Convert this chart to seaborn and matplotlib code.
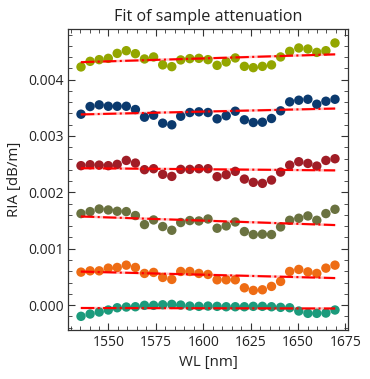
import numpy as np
import pandas as pd
import matplotlib
matplotlib.use("Agg")
import matplotlib.pyplot as plt
from matplotlib.ticker import MultipleLocator
import seaborn as sns

# wavelength grid [nm]
wl = [1535.5, 1540.3, 1545.1, 1549.9, 1554.6, 1559.4, 1564.2, 1569.0, 1573.8,
      1578.6, 1583.4, 1588.1, 1592.9, 1597.7, 1602.5, 1607.3, 1612.1, 1616.9,
      1621.7, 1626.4, 1631.2, 1636.0, 1640.8, 1645.6, 1650.4, 1655.2, 1659.9,
      1664.7, 1669.5]

# RIA per sample [dB/m]
ria_a = [0.004225, 0.004324, 0.004354, 0.004377, 0.004465, 0.004513, 0.004460, 0.004366,
         0.004402, 0.004261, 0.004230, 0.004349, 0.004372, 0.004377, 0.004354, 0.004253,
         0.004313, 0.004384, 0.004235, 0.004212, 0.004235, 0.004261, 0.004402, 0.004501,
         0.004561, 0.004543, 0.004483, 0.004513, 0.004650]
ria_b = [0.003386, 0.003522, 0.003552, 0.003527, 0.003527, 0.003527, 0.003469, 0.003333,
         0.003368, 0.003227, 0.003198, 0.003350, 0.003416, 0.003428, 0.003416, 0.003304,
         0.003358, 0.003439, 0.003287, 0.003239, 0.003244, 0.003310, 0.003446, 0.003605,
         0.003634, 0.003651, 0.003563, 0.003616, 0.003651]
ria_c = [0.002473, 0.002490, 0.002483, 0.002473, 0.002496, 0.002566, 0.002519, 0.002402,
         0.002419, 0.002319, 0.002283, 0.002407, 0.002407, 0.002419, 0.002419, 0.002278,
         0.002313, 0.002372, 0.002235, 0.002177, 0.002159, 0.002218, 0.002359, 0.002483,
         0.002543, 0.002513, 0.002466, 0.002566, 0.002596]
ria_d = [0.001623, 0.001658, 0.001704, 0.001687, 0.001664, 0.001658, 0.001588, 0.001428,
         0.001510, 0.001393, 0.001327, 0.001464, 0.001499, 0.001492, 0.001527, 0.001363,
         0.001404, 0.001474, 0.001304, 0.001251, 0.001257, 0.001251, 0.001386, 0.001504,
         0.001540, 0.001581, 0.001504, 0.001623, 0.001699]
ria_e = [0.000584, 0.000607, 0.000607, 0.000655, 0.000667, 0.000708, 0.000667, 0.000561,
         0.000579, 0.000490, 0.000455, 0.000596, 0.000596, 0.000561, 0.000543, 0.000448,
         0.000448, 0.000448, 0.000306, 0.000260, 0.000271, 0.000331, 0.000419, 0.000596,
         0.000632, 0.000589, 0.000561, 0.000655, 0.000708]
ria_f = [-0.000200, -0.000159, -0.000124, -0.000088, -0.000048, -0.000035, -0.000030, -0.000005,
         -0.000005, 0.000005, 0.000012, 0.000000, -0.000018, -0.000023, -0.000018, -0.000023,
         -0.000030, -0.000030, -0.000030, -0.000023, -0.000023, -0.000030, -0.000041, -0.000048,
         -0.000106, -0.000147, -0.000147, -0.000142, -0.000088]

series = ["a", "b", "c", "d", "e", "f"]
colors = ["#93a600", "#0b3a6e", "#a01d26", "#6a7240", "#ee6c14", "#1b9b7c"]

rows = []
for name, vals in zip(series, [ria_a, ria_b, ria_c, ria_d, ria_e, ria_f]):
    for x, y in zip(wl, vals):
        rows.append({"wl": x, "ria": y, "sample": name})
df = pd.DataFrame(rows)

# linear fit for each sample
fit_rows = []
for name in series:
    sub = df[df["sample"] == name]
    p = np.polyfit(sub["wl"], sub["ria"], 1)
    for x in wl:
        fit_rows.append({"wl": x, "ria": np.polyval(p, x), "sample": name})
fit = pd.DataFrame(fit_rows)

sns.set_theme(style="ticks")
plt.rcParams["font.family"] = ["Open Sans", "DejaVu Sans"]
plt.rcParams["text.color"] = "#222222"
plt.rcParams["axes.labelcolor"] = "#222222"

fig, ax = plt.subplots(figsize=(3.7, 3.79), dpi=100)
fig.subplots_adjust(left=0.1846, right=0.9397, bottom=0.1293, top=0.9227)

sns.scatterplot(data=df, x="wl", y="ria", hue="sample", palette=colors,
                s=46, linewidth=0, legend=False, ax=ax, zorder=2)
for name in series:
    sub = fit[fit["sample"] == name]
    ax.plot(sub["wl"], sub["ria"], color="red", lw=1.8, alpha=0.25, zorder=3)
    ax.plot(sub["wl"], sub["ria"], color="red", lw=1.5, ls="-.", zorder=3)

ax.set_title("Fit of sample attenuation", fontsize=11.6)
ax.set_xlabel("WL [nm]", fontsize=10.8)
ax.set_ylabel("RIA [dB/m]", fontsize=10.8)

ax.xaxis.set_major_locator(MultipleLocator(25))
ax.xaxis.set_minor_locator(MultipleLocator(5))
ax.yaxis.set_major_locator(MultipleLocator(0.001))
ax.yaxis.set_minor_locator(MultipleLocator(0.0002))
ax.yaxis.set_major_formatter(matplotlib.ticker.FormatStrFormatter("%.3f"))
ax.tick_params(which="both", direction="in", top=True, right=True,
               labelsize=10, colors="#333333", labelcolor="#222222")
ax.tick_params(which="major", length=5, width=0.8)
ax.tick_params(which="minor", length=3, width=0.6)
for sp in ax.spines.values():
    sp.set_color("#333333")
    sp.set_linewidth(0.9)

fig.savefig("out.png", dpi=100)
